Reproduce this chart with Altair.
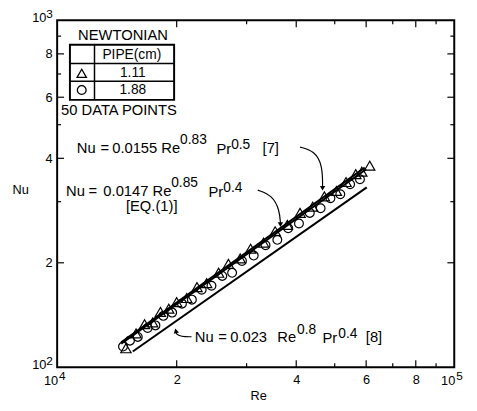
import altair as alt
import pandas as pd

# ---------------- data ----------------
# pipe 1.11 cm (triangles)
tri_re = [14900, 15800, 16600, 17400, 18200, 19100, 20000, 21200, 22500, 23800,
          25500, 27000, 28900, 30700, 33100, 35400, 38000, 40900, 44000, 47100,
          50500, 53400, 56500, 58500, 61250]
tri_nu = [113.4, 125.1, 133.1, 134.6, 144.3, 147.5, 154.1, 158.3, 170.2, 174.8,
          187.2, 198.6, 205.9, 219.6, 228.7, 246.5, 257.2, 278.6, 290.2, 310.8,
          322.1, 341.8, 360.3, 366.2, 380.8]
# pipe 1.88 cm (circles)
cir_re = [14650, 15250, 15960, 16900, 17680, 18510, 19480, 20620, 21840, 23120,
          24470, 26050, 27580, 29200, 31260, 33480, 35850, 38180, 40640, 43270,
          46070, 48770, 51640, 54660, 57870]
cir_nu = [114.7, 119.3, 122.3, 129.7, 132.0, 140.6, 143.7, 152.5, 156.6, 167.3,
          171.8, 183.3, 187.1, 202.4, 209.8, 224.7, 232.9, 251.5, 259.5, 278.5,
          287.3, 306.9, 315.2, 336.7, 348.1]

# correlation lines (end points)
eq1_re = [14500, 60000]
eq1_nu = [117, 372]
ref7_re = [14500, 59500]
ref7_nu = [118, 376]
ref8_re = [15500, 60200]
ref8_nu = [111, 330]

# annotation arrows (Re, Nu)
arr7_re = [40900, 44500, 46600, 46600]
arr7_nu = [431, 420, 381, 330]
arr1_re = [32000, 34800, 36300, 36500]
arr1_nu = [324, 313, 284, 260]
arr8_re = [21800, 20500, 19900, 19900]
arr8_nu = [122.4, 122.4, 124.8, 127.3]
head_re = [46600, 36500, 19900]
head_nu = [328, 257.5, 127.3]
head_shape = ["triangle-down", "triangle-down", "triangle-up"]
head_angle = [0, 0, 345]

# axis ticks
x_major = [20000, 40000, 60000, 80000]
x_minor = [30000, 50000, 70000, 90000]
y_major = [200, 400, 600, 800]
y_minor = [300, 500, 700, 900]
x_pow_vals = [10000, 100000]
x_pow_exp = ["4", "5"]
y_pow_vals = [100, 1000]
y_pow_exp = ["2", "3"]

# ---------------- chart ----------------
W, H = 404, 353
FONT = "Liberation Sans"

sx = alt.Scale(type="log", domain=[1e4, 1e5], nice=False)
sy = alt.Scale(type="log", domain=[100, 1000], nice=False)
ax = alt.Axis(values=x_major, labelExpr="format(datum.value/10000,'d')", ticks=False,
              domain=False, grid=False, labelFont=FONT, labelFontSize=13, labelPadding=7,
              labelColor="black", title=None)
ay = alt.Axis(values=y_major, labelExpr="format(datum.value/100,'d')", ticks=False,
              domain=False, grid=False, labelFont=FONT, labelFontSize=13, labelPadding=5,
              labelColor="black", title=None)
X = alt.X("re:Q", scale=sx, axis=ax)
Y = alt.Y("nu:Q", scale=sy, axis=ay)

layers = []

tri = pd.DataFrame({"re": tri_re, "nu": tri_nu})
cir = pd.DataFrame({"re": cir_re, "nu": cir_nu})
layers.append(alt.Chart(tri).mark_point(shape="triangle-up", filled=False, color="black",
                                        strokeWidth=1.2, size=110, opacity=1).encode(X, Y))
layers.append(alt.Chart(cir).mark_point(shape="circle", filled=False, color="black",
                                        strokeWidth=1.2, size=80, opacity=1).encode(X, Y))

lines_df = pd.DataFrame({
    "re": eq1_re + ref7_re + ref8_re,
    "nu": eq1_nu + ref7_nu + ref8_nu,
    "corr": ["eq1"] * 2 + ["ref7"] * 2 + ["ref8"] * 2,
})
layers.append(alt.Chart(lines_df).mark_line(color="black", strokeWidth=2).encode(X, Y, detail="corr:N"))

arr_df = pd.DataFrame({
    "re": arr7_re + arr1_re + arr8_re,
    "nu": arr7_nu + arr1_nu + arr8_nu,
    "arrow": ["a7"] * 4 + ["a1"] * 4 + ["a8"] * 4,
    "k": list(range(4)) * 3,
})
layers.append(alt.Chart(arr_df).mark_line(color="black", strokeWidth=1.2, interpolate="basis").encode(
    X, Y, detail="arrow:N", order="k:Q"))
head_df = pd.DataFrame({"re": head_re, "nu": head_nu, "shape": head_shape, "ang": head_angle})
layers.append(alt.Chart(head_df).mark_point(filled=True, color="black", size=30, opacity=1).encode(
    X, Y, shape=alt.Shape("shape:N", scale=None), angle=alt.Angle("ang:Q", scale=None)))


# inward tick marks on all four sides
def tick_layers(vals, L):
    d = pd.DataFrame({"re": vals})
    return [
        alt.Chart(d).mark_rule(color="black", strokeWidth=1.2).encode(X, y=alt.value(H), y2=alt.value(H - L)),
        alt.Chart(d).mark_rule(color="black", strokeWidth=1.2).encode(X, y=alt.value(0), y2=alt.value(L)),
    ]


def ytick_layers(vals, L):
    d = pd.DataFrame({"nu": vals})
    return [
        alt.Chart(d).mark_rule(color="black", strokeWidth=1.2).encode(Y, x=alt.value(0), x2=alt.value(L)),
        alt.Chart(d).mark_rule(color="black", strokeWidth=1.2).encode(Y, x=alt.value(W), x2=alt.value(W - L)),
    ]


layers += tick_layers(x_major, 7) + tick_layers(x_minor, 4)
layers += ytick_layers(y_major, 7) + ytick_layers(y_minor, 4)

# power-of-ten labels
xp = pd.DataFrame({"re": x_pow_vals, "e": x_pow_exp})
layers.append(alt.Chart(xp).mark_text(text="10", font=FONT, fontSize=13, align="right",
                                      baseline="middle", dx=1, color="black").encode(X, y=alt.value(H + 14)))
layers.append(alt.Chart(xp).mark_text(font=FONT, fontSize=12, align="left",
                                      baseline="middle", dx=2, color="black").encode(X, y=alt.value(H + 9), text="e:N"))
yp = pd.DataFrame({"nu": y_pow_vals, "e": y_pow_exp})
layers.append(alt.Chart(yp).mark_text(text="10", font=FONT, fontSize=13, align="right",
                                      baseline="middle", dy=-2, color="black").encode(Y, x=alt.value(-11)))
layers.append(alt.Chart(yp).mark_text(font=FONT, fontSize=12, align="left",
                                      baseline="middle", dy=-6, color="black").encode(Y, x=alt.value(-11), text="e:N"))

one = pd.DataFrame({"a": [0]})


def txt(s, x, y, size=15, align="left"):
    return alt.Chart(one).mark_text(text=s, font=FONT, fontSize=size, align=align,
                                    baseline="middle", color="black").encode(
        x=alt.value(x), y=alt.value(y))


# axis titles
layers.append(txt("Nu", -37, 173, 13, "center"))
layers.append(txt("Re", 205, 382, 13, "center"))

# legend table
layers.append(alt.Chart(one).mark_rect(fill="white", stroke="black", strokeWidth=2).encode(
    x=alt.value(13), x2=alt.value(119), y=alt.value(25), y2=alt.value(81)))
layers.append(alt.Chart(one).mark_rule(color="black", strokeWidth=1.5).encode(
    x=alt.value(38), y=alt.value(25), y2=alt.value(81)))
layers.append(alt.Chart(one).mark_rule(color="black", strokeWidth=1.5).encode(
    x=alt.value(13), x2=alt.value(119), y=alt.value(44)))
layers.append(alt.Chart(one).mark_rule(color="black", strokeWidth=1.5).encode(
    x=alt.value(13), x2=alt.value(119), y=alt.value(62)))
layers.append(alt.Chart(one).mark_point(shape="triangle-up", filled=False, color="black",
                                        size=90, strokeWidth=1.3, opacity=1).encode(
    x=alt.value(25), y=alt.value(54)))
layers.append(alt.Chart(one).mark_point(shape="circle", filled=False, color="black",
                                        size=80, strokeWidth=1.3, opacity=1).encode(
    x=alt.value(25), y=alt.value(71)))
layers.append(txt("NEWTONIAN", 67, 15, 15, "center"))
layers.append(txt("PIPE(cm)", 76, 35, 14, "center"))
layers.append(txt("1.11", 77, 54, 14, "center"))
layers.append(txt("1.88", 77, 71, 14, "center"))
layers.append(txt("50 DATA POINTS", 4, 91, 15, "left"))

# annotation 1 : Nu = 0.0155 Re^0.83 Pr^0.5 [7]
for s, x, y, fs in [("Nu", 20, 130, 15), ("=", 44, 130, 15), ("0.0155", 56, 130, 15),
                    ("Re", 106, 130, 15), ("0.83", 125, 122, 14), ("Pr", 162, 131, 15),
                    ("0.5", 177, 127, 14), ("[7]", 209, 130, 15)]:
    layers.append(txt(s, x, y, fs))
# annotation 2 : Nu = 0.0147 Re^0.85 Pr^0.4 [EQ.(1)]
for s, x, y, fs in [("Nu", 9, 174, 15), ("=", 32, 174, 15), ("0.0147", 47, 174, 15),
                    ("Re", 97, 174, 15), ("0.85", 116, 166, 14), ("Pr", 154, 175, 15),
                    ("0.4", 169, 171, 14), ("[EQ.(1)]", 70, 189, 15)]:
    layers.append(txt(s, x, y, fs))
# annotation 3 : Nu = 0.023 Re^0.8 Pr^0.4 [8]
for s, x, y, fs in [("Nu", 140, 322, 15), ("=", 164, 322, 15), ("0.023", 176, 322, 15),
                    ("Re", 224, 322, 15), ("0.8", 244, 315, 14), ("Pr", 270, 323, 15),
                    ("0.4", 286, 319, 14), ("[8]", 314, 322, 15)]:
    layers.append(txt(s, x, y, fs))

chart = alt.layer(*layers).properties(
    width=W, height=H,
    autosize=alt.AutoSizeParams(type="none"),
    padding={"left": 50, "top": 9, "right": 15, "bottom": 38},
    background="white",
).configure_view(stroke="black", strokeWidth=2)

chart.save("out.html", embed_options={"renderer": "svg", "actions": False})
